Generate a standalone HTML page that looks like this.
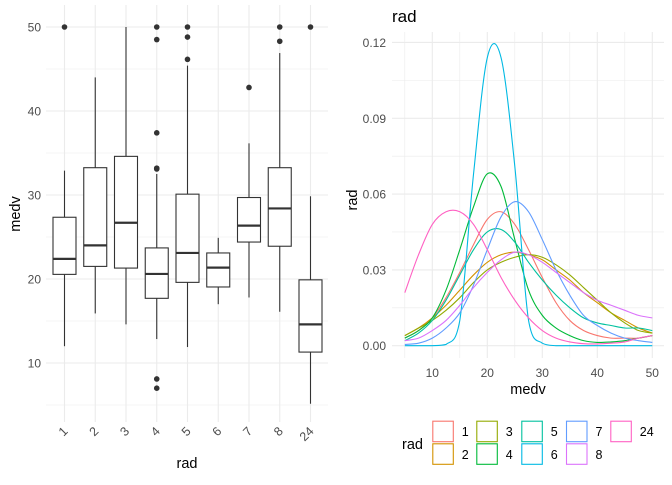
<!DOCTYPE html>
<html><head><meta charset="utf-8"><style>
body{margin:0;background:#fff;font-family:"Liberation Sans",sans-serif}
svg text{font-family:"Liberation Sans",sans-serif}
</style></head><body>
<svg id="c" width="672" height="480" viewBox="0 0 672 480">
<g id="left"></g>
<g id="right"></g>
</svg>
<script>
// ---- Boxplot data ----
const boxCats = ["1","2","3","4","5","6","7","8","24"];
const boxLow = [12.0,15.9,14.6,12.85,11.9,17.0,17.8,16.1,5.15];
const boxQ1 = [20.55,21.5,21.3,17.7,19.6,19.05,24.4,23.9,11.3];
const boxMed = [22.4,24.0,26.7,20.6,23.1,21.35,26.35,28.4,14.6];
const boxQ3 = [27.35,33.25,34.6,23.7,30.1,23.1,29.7,33.25,19.9];
const boxHigh = [32.9,44.0,50,32.5,45.4,24.9,36.15,46.9,29.85];
const boxOutliers = [[50],[],[],[50,48.5,37.4,33.2,33.1,8.1,7.0],[50,48.8,46.15],[],[42.8],[50,48.3],[50]];
const boxYTicks = [10,20,30,40,50];

// ---- Density data ----
const densLevels = ["1","2","3","4","5","6","7","8","24"];
const densColors = ["#F8766D","#D39200","#93AA00","#00BA38","#00C19F","#00B9E3","#619CFF","#DB72FB","#FF61C3"];
const densX = [5,7.5,10,12.5,15,17.5,20,22.5,25,27.5,30,32.5,35,37.5,40,42.5,45,47.5,50];
const dens1 = [0.003,0.006,0.011,0.019,0.029,0.040,0.050,0.053,0.048,0.038,0.027,0.017,0.010,0.006,0.004,0.003,0.003,0.003,0.004];
const dens2 = [0.004,0.007,0.011,0.016,0.022,0.028,0.033,0.036,0.037,0.036,0.034,0.030,0.026,0.021,0.017,0.013,0.010,0.007,0.005];
const dens3 = [0.004,0.007,0.010,0.014,0.019,0.025,0.030,0.033,0.035,0.036,0.035,0.032,0.028,0.023,0.018,0.013,0.009,0.006,0.005];
const dens4 = [0.003,0.006,0.011,0.022,0.038,0.055,0.068,0.063,0.042,0.022,0.012,0.007,0.004,0.002,0.0013,0.0015,0.002,0.003,0.004];
const dens5 = [0.002,0.005,0.010,0.018,0.028,0.038,0.045,0.046,0.041,0.033,0.026,0.020,0.015,0.011,0.009,0.008,0.007,0.007,0.006];
const dens6 = [0,0,0,0.0005,0.010,0.068,0.114,0.114,0.071,0.010,0.001,0,0,0,0,0,0,0,0];
const dens7 = [0.0005,0.001,0.003,0.007,0.013,0.024,0.038,0.051,0.057,0.053,0.042,0.030,0.020,0.012,0.008,0.005,0.003,0.002,0.0013];
const dens8 = [0.002,0.003,0.006,0.010,0.016,0.023,0.029,0.034,0.037,0.036,0.033,0.029,0.025,0.021,0.018,0.016,0.014,0.012,0.011];
const dens24 = [0.021,0.036,0.048,0.053,0.053,0.048,0.038,0.027,0.018,0.011,0.006,0.003,0.0015,0.0008,0.0007,0.001,0.0015,0.003,0.004];
const densXTicks = [10,20,30,40,50];
const densYTicks = [0,0.03,0.06,0.09,0.12];
const densYLabels = ["0.00","0.03","0.06","0.09","0.12"];

const NS="http://www.w3.org/2000/svg";
function mk(p,tag,attrs,txt){const e=document.createElementNS(NS,tag);for(const k in attrs)e.setAttribute(k,attrs[k]);if(txt!==undefined)e.textContent=txt;p.appendChild(e);return e;}

// ---- Left panel ----
const L=document.getElementById('left');
const lx0=46,lx1=328,ly0=5,ly1=422;
const ly=v=>279-(v-20)*8.4;
const lx=i=>64.5+i*30.75;
for(let v=5;v<=45;v+=10){const g=mk(L,'line',{x1:lx0,x2:lx1,y1:ly(v),y2:ly(v),stroke:'#ebebeb','stroke-width':0.6});

}
boxYTicks.forEach(v=>{const g=mk(L,'line',{x1:lx0,x2:lx1,y1:ly(v),y2:ly(v),stroke:'#ebebeb','stroke-width':1.1});


const t=mk(L,'text',{x:41,y:ly(v)+4.5,'text-anchor':'end','font-size':12,fill:'#4d4d4d'},v);

});
boxCats.forEach((c,i)=>{const g=mk(L,'line',{x1:lx(i),x2:lx(i),y1:ly0,y2:ly1,stroke:'#ebebeb','stroke-width':1.1});

});
boxCats.forEach((c,i)=>{
 const x=lx(i),w=11.5;
 const g=mk(L,'g',{});
 
 
 mk(g,'line',{x1:x,x2:x,y1:ly(boxHigh[i]),y2:ly(boxQ3[i]),stroke:'#333','stroke-width':1.1});
 mk(g,'line',{x1:x,x2:x,y1:ly(boxQ1[i]),y2:ly(boxLow[i]),stroke:'#333','stroke-width':1.1});
 mk(g,'rect',{x:x-w,y:ly(boxQ3[i]),width:2*w,height:ly(boxQ1[i])-ly(boxQ3[i]),fill:'#fff',stroke:'#333','stroke-width':1.1});
 mk(g,'line',{x1:x-w,x2:x+w,y1:ly(boxMed[i]),y2:ly(boxMed[i]),stroke:'#333','stroke-width':2.2});
 boxOutliers[i].forEach(o=>{const d=mk(g,'circle',{cx:x,cy:ly(o),r:2.8,fill:'#333'});
 
 });
 const t=mk(L,'text',{x:x+4,y:432,'text-anchor':'end','font-size':12.5,fill:'#4d4d4d',transform:`rotate(-45 ${x+4} 432)`},c);
 
 
});
let t=mk(L,'text',{x:187,y:468,'text-anchor':'middle','font-size':14.5,fill:'#000'},'rad');


t=mk(L,'text',{x:0,y:0,'text-anchor':'middle','font-size':14.5,fill:'#000',transform:'translate(20 214) rotate(-90)'},'medv');



// ---- Right panel ----
const R=document.getElementById('right');
const rx0=392,rx1=664,ry0=32,ry1=358;
const rx=v=>404.8+(v-5)*5.5;
const ry=v=>345.7-v*2527;
for(let v=0.015;v<0.13;v+=0.03){const g=mk(R,'line',{x1:rx0,x2:rx1,y1:ry(v),y2:ry(v),stroke:'#ebebeb','stroke-width':0.6});

}
for(let v=5;v<=45;v+=10){const g=mk(R,'line',{x1:rx(v),x2:rx(v),y1:ry0,y2:ry1,stroke:'#ebebeb','stroke-width':0.6});

}
densYTicks.forEach((v,i)=>{const g=mk(R,'line',{x1:rx0,x2:rx1,y1:ry(v),y2:ry(v),stroke:'#ebebeb','stroke-width':1.1});


const tt=mk(R,'text',{x:386,y:ry(v)+4.5,'text-anchor':'end','font-size':12,fill:'#4d4d4d'},densYLabels[i]);

});
densXTicks.forEach(v=>{const g=mk(R,'line',{x1:rx(v),x2:rx(v),y1:ry0,y2:ry1,stroke:'#ebebeb','stroke-width':1.1});


const tt=mk(R,'text',{x:rx(v),y:377,'text-anchor':'middle','font-size':12,fill:'#4d4d4d'},v);

});
const allDens=[dens1,dens2,dens3,dens4,dens5,dens6,dens7,dens8,dens24];
function smooth(pts){let d=`M${pts[0][0]},${pts[0][1]}`;
 for(let i=0;i<pts.length-1;i++){const p0=pts[Math.max(0,i-1)],p1=pts[i],p2=pts[i+1],p3=pts[Math.min(pts.length-1,i+2)];
 const c1=[p1[0]+(p2[0]-p0[0])/6,p1[1]+(p2[1]-p0[1])/6],c2=[p2[0]-(p3[0]-p1[0])/6,p2[1]-(p3[1]-p1[1])/6];
 d+=`C${c1[0]},${Math.min(c1[1],ry(0))} ${c2[0]},${Math.min(c2[1],ry(0))} ${p2[0]},${p2[1]}`;}
 return d;}
allDens.forEach((arr,k)=>{
 const pts=densX.map((x,i)=>[rx(x),ry(arr[i])]);
 const p=mk(R,'path',{d:smooth(pts),fill:'none',stroke:densColors[k],'stroke-width':1.1});
 
 
});
t=mk(R,'text',{x:392,y:22,'font-size':17,fill:'#000'},'rad');


t=mk(R,'text',{x:528,y:394,'text-anchor':'middle','font-size':14.5,fill:'#000'},'medv');


t=mk(R,'text',{x:0,y:0,'text-anchor':'middle','font-size':14.5,fill:'#000',transform:'translate(357 200) rotate(-90)'},'rad');


// legend
const lg=mk(R,'g',{});


t=mk(lg,'text',{x:402,y:449,'font-size':14.5,fill:'#000'},'rad');


const colX=[432.3,476.3,521.3,566,610.3];
densLevels.forEach((lv,k)=>{
 const col=Math.floor(k/2),row=k%2;
 const x=colX[col],y=row?443.3:420.7;
 const e=mk(lg,'g',{});
 
 
 mk(e,'rect',{x:x+0.5,y:y+0.5,width:20.5,height:20.5,fill:'#fff',stroke:densColors[k],'stroke-width':1.1});
 mk(e,'text',{x:x+29.5,y:y+15.5,'font-size':12.5,fill:'#000'},lv);
});
</script>
</body></html>
